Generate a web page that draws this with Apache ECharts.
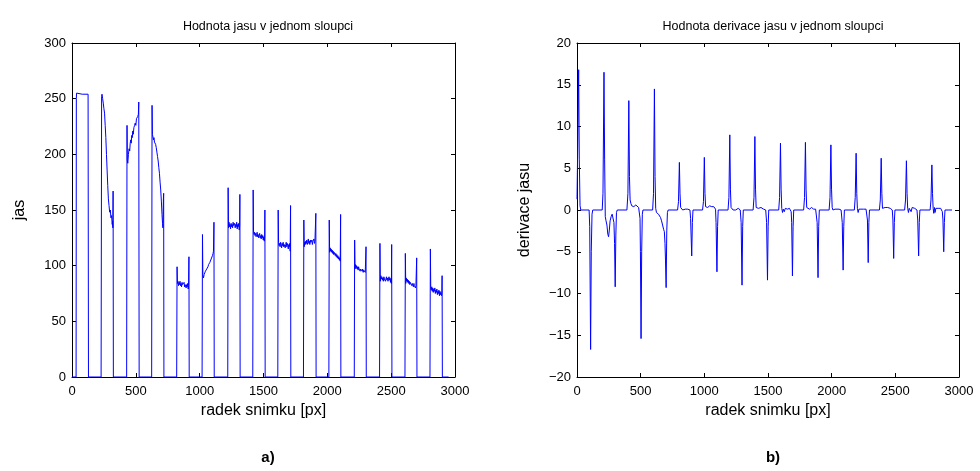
<!DOCTYPE html>
<html>
<head>
<meta charset="utf-8">
<script src="https://cdn.jsdelivr.net/npm/echarts@6/dist/echarts.min.js"></script>
<style>
  html, body { margin: 0; padding: 0; background: #fff; }
  #chart { width: 980px; height: 471px; }
</style>
</head>
<body>
<div id="chart"></div>
<script>
// hodnota jasu v jednom sloupci, [radek, jas], one line per pulse
const jasData = [
  [0, 0], [32, 0], [34, 250], [36, 255], [40, 254], [80, 254], [126, 254], [129, 0],
  [228, 0], [232, 252], [235, 254], [240, 250], [245, 246], [250, 241], [255, 237], [260, 226], [265, 215], [270, 200], [275, 186], [280, 172], [285, 160], [290, 154], [295, 148], [300, 150], [305, 143], [310, 145], [315, 137], [318, 140], [320, 134], [322, 167], [324, 0],
  [428, 0], [431, 226], [433, 195], [437, 192], [442, 200], [447, 205], [452, 203], [456, 210], [460, 213], [464, 210], [468, 217], [472, 215], [476, 221], [480, 218], [485, 224], [490, 226], [495, 228], [500, 226], [505, 232], [510, 233], [515, 234], [520, 236], [523, 247], [526, 0],
  [624, 0], [627, 244], [630, 218], [634, 217], [638, 213], [642, 215], [646, 211], [650, 212], [655, 209], [660, 206], [665, 202], [670, 198], [675, 194], [680, 188], [685, 183], [690, 175], [695, 168], [700, 158], [705, 146], [709, 138], [712, 134], [716, 160], [718, 165], [720, 0],
  [820, 0], [823, 99], [826, 84], [830, 86], [834, 82], [838, 85], [842, 83], [846, 86], [850, 82], [854, 84], [858, 81], [862, 85], [866, 83], [870, 84], [874, 82], [878, 85], [882, 81], [886, 83], [890, 84], [894, 80], [898, 83], [902, 81], [906, 84], [910, 79], [913, 82], [916, 108], [918, 0],
  [1019, 0], [1022, 128], [1025, 92], [1030, 89], [1035, 92], [1040, 93], [1045, 95], [1050, 94], [1055, 97], [1060, 98], [1065, 99], [1070, 101], [1075, 100], [1080, 103], [1085, 104], [1090, 106], [1095, 107], [1100, 109], [1105, 111], [1108, 113], [1112, 139], [1114, 0],
  [1220, 0], [1223, 170], [1226, 134], [1230, 139], [1234, 135], [1238, 137], [1242, 133], [1246, 138], [1250, 135], [1254, 137], [1258, 134], [1262, 139], [1266, 136], [1270, 135], [1274, 138], [1278, 134], [1282, 137], [1286, 135], [1290, 139], [1294, 133], [1298, 137], [1302, 135], [1306, 138], [1310, 132], [1313, 136], [1315, 164], [1317, 0],
  [1416, 0], [1419, 168], [1422, 131], [1426, 128], [1430, 130], [1434, 127], [1438, 129], [1442, 126], [1446, 128], [1450, 130], [1454, 126], [1458, 128], [1462, 125], [1466, 127], [1470, 129], [1474, 125], [1478, 127], [1482, 124], [1486, 128], [1490, 125], [1494, 127], [1498, 123], [1502, 126], [1506, 122], [1509, 125], [1511, 150], [1513, 0],
  [1612, 0], [1615, 150], [1618, 121], [1622, 118], [1626, 120], [1630, 117], [1634, 121], [1638, 119], [1642, 116], [1646, 120], [1650, 118], [1654, 121], [1658, 117], [1662, 119], [1666, 120], [1670, 116], [1674, 119], [1678, 121], [1682, 117], [1686, 120], [1690, 118], [1694, 115], [1698, 119], [1702, 117], [1706, 120], [1709, 113], [1712, 154], [1714, 0],
  [1813, 0], [1816, 141], [1819, 117], [1823, 121], [1827, 119], [1831, 122], [1835, 120], [1839, 123], [1843, 119], [1847, 121], [1851, 124], [1855, 120], [1859, 122], [1863, 119], [1867, 123], [1871, 121], [1875, 120], [1879, 123], [1883, 119], [1887, 122], [1891, 121], [1895, 124], [1899, 120], [1903, 122], [1907, 121], [1910, 147], [1912, 0],
  [2012, 0], [2015, 141], [2018, 112], [2022, 116], [2026, 113], [2030, 115], [2034, 112], [2038, 114], [2042, 111], [2046, 113], [2050, 110], [2054, 112], [2058, 111], [2062, 109], [2066, 111], [2070, 108], [2074, 110], [2078, 107], [2082, 109], [2086, 106], [2090, 108], [2094, 105], [2098, 107], [2101, 104], [2104, 146], [2106, 0],
  [2211, 0], [2214, 123], [2217, 97], [2221, 101], [2225, 98], [2229, 100], [2233, 97], [2237, 99], [2241, 96], [2245, 99], [2249, 97], [2253, 98], [2257, 95], [2261, 97], [2265, 96], [2269, 98], [2273, 95], [2277, 97], [2281, 94], [2285, 96], [2289, 95], [2293, 97], [2297, 94], [2300, 95], [2303, 117], [2305, 0],
  [2409, 0], [2412, 120], [2415, 86], [2419, 91], [2423, 88], [2427, 90], [2431, 87], [2435, 89], [2439, 86], [2443, 90], [2447, 88], [2451, 89], [2455, 86], [2459, 88], [2463, 90], [2467, 87], [2471, 89], [2475, 86], [2479, 88], [2483, 90], [2487, 87], [2491, 89], [2495, 85], [2499, 88], [2502, 84], [2504, 119], [2506, 0],
  [2608, 0], [2611, 111], [2614, 84], [2618, 89], [2622, 86], [2626, 88], [2630, 85], [2634, 87], [2638, 84], [2642, 86], [2646, 83], [2650, 85], [2654, 84], [2658, 86], [2662, 82], [2666, 84], [2670, 83], [2674, 81], [2678, 84], [2682, 82], [2686, 83], [2690, 80], [2694, 82], [2698, 81], [2700, 107], [2702, 0],
  [2804, 0], [2807, 115], [2810, 80], [2814, 78], [2818, 81], [2822, 77], [2826, 80], [2830, 76], [2834, 79], [2838, 77], [2842, 80], [2846, 75], [2850, 78], [2854, 76], [2858, 79], [2862, 74], [2866, 77], [2870, 75], [2874, 78], [2878, 73], [2882, 77], [2886, 74], [2890, 76], [2894, 73], [2897, 75], [2899, 91], [2901, 0], [2950, 0]
];

// hodnota derivace jasu, [radek, derivace], one line per pulse
const derivaceData = [
  [0, 1.3], [6, 8], [13, 16.8], [18, 6], [24, 0.5], [30, 0], [95, 0], [100, -2], [107, -16.7], [112, -5], [118, -0.5], [124, 0],
  [198, 0], [204, 2], [212, 16.5], [217, 6], [222, -0.8], [228, -1.3], [235, -1.8], [242, -2.9], [248, -3.2], [254, -2.4], [260, -1.3], [268, -0.8], [276, -0.5], [284, -0.4], [290, -1.5], [295, -4], [300, -9.2], [305, -3], [310, -0.3], [316, 0],
  [392, 0], [400, 2], [407, 13.1], [412, 4], [417, 1.2], [423, 0.8], [430, 0.5], [438, 0.3], [446, 0.4], [455, 0.4], [462, 0.6], [468, 0.5], [476, 0.4], [484, 0.3], [490, 0.2], [495, -1], [498, -5], [503, -15.4], [508, -5], [513, -0.5], [518, 0],
  [594, 0], [601, 2], [608, 14.5], [613, 4], [618, 0.2], [624, -0.3], [632, -0.4], [640, -0.5], [648, -0.7], [656, -0.9], [664, -1.3], [672, -1.8], [680, -2.3], [686, -2.6], [691, -4], [695, -6], [700, -9.3], [705, -2.5], [710, -0.3], [716, 0],
  [790, 0], [797, 1], [804, 5.7], [809, 2], [814, 0.3], [822, 0.1], [830, 0], [840, 0.2], [850, 0.1], [860, 0.2], [870, 0.1], [880, 0.2], [887, 0], [892, -1], [901, -5.5], [906, -1.5], [911, 0],
  [986, 0], [993, 1], [1000, 6.3], [1005, 2], [1010, 0.4], [1018, 0.3], [1026, 0.3], [1034, 0.4], [1042, 0.5], [1050, 0.5], [1058, 0.4], [1066, 0.5], [1074, 0.4], [1082, 0.3], [1088, 0.1], [1092, -1.5], [1099, -7.4], [1104, -2], [1109, 0],
  [1186, 0], [1193, 1.5], [1200, 9.0], [1205, 2.5], [1210, 0.3], [1218, 0.1], [1226, 0], [1236, 0.1], [1246, 0], [1256, 0.1], [1266, 0.2], [1274, 0.1], [1282, 0], [1289, -1.5], [1296, -9.0], [1301, -2], [1306, 0],
  [1383, 0], [1390, 1.5], [1397, 8.8], [1402, 2.5], [1407, 0.3], [1415, 0.1], [1425, 0.2], [1435, 0.1], [1445, 0.3], [1455, 0.2], [1465, 0.1], [1475, 0.2], [1482, 0], [1489, -1.5], [1496, -8.4], [1501, -2], [1506, 0],
  [1584, 0], [1591, 1.5], [1598, 8.0], [1603, 2.5], [1608, 0.2], [1614, -0.3], [1620, 0.1], [1628, -0.2], [1636, 0.2], [1644, 0.3], [1652, 0.1], [1660, 0.3], [1668, 0.2], [1676, 0], [1682, -0.2], [1686, -1.5], [1692, -7.9], [1697, -2], [1702, 0],
  [1780, 0], [1787, 1.5], [1794, 8.1], [1799, 2.5], [1804, 0.3], [1810, 0.1], [1818, 0.3], [1826, 0.1], [1834, 0.2], [1842, 0.3], [1850, 0.2], [1858, 0.1], [1866, 0.2], [1874, 0.1], [1880, 0], [1886, -1.5], [1893, -8.1], [1898, -2], [1903, 0],
  [1980, 0], [1987, 1.5], [1994, 7.8], [1999, 2.5], [2004, 0.3], [2010, 0], [2018, 0.2], [2026, 0.1], [2034, 0.3], [2042, 0.1], [2050, 0.2], [2058, 0.1], [2066, 0.2], [2074, 0], [2078, -0.2], [2083, -1.5], [2090, -7.2], [2095, -2], [2100, 0],
  [2178, 0], [2185, 1.5], [2192, 6.8], [2197, 2], [2202, 0.2], [2208, -0.3], [2214, 0.1], [2222, 0.2], [2230, 0.1], [2240, 0.2], [2250, 0.1], [2260, 0.2], [2270, 0.1], [2276, 0], [2281, -1.2], [2287, -6.3], [2292, -1.5], [2297, 0],
  [2375, 0], [2382, 1.2], [2389, 6.2], [2394, 2], [2399, 0.2], [2405, 0.4], [2412, 0.1], [2420, 0.3], [2430, 0.2], [2440, 0.3], [2450, 0.1], [2460, 0.2], [2470, 0.1], [2476, 0], [2481, -1.2], [2487, -5.8], [2492, -1.5], [2497, 0],
  [2573, 0], [2580, 1.2], [2587, 5.9], [2592, 2], [2597, 0.2], [2603, -0.3], [2609, 0.2], [2616, 0.4], [2624, -0.2], [2632, 0.3], [2642, 0.1], [2652, 0.2], [2662, 0.1], [2670, 0], [2676, -1.2], [2683, -5.5], [2688, -1.5], [2693, 0],
  [2773, 0], [2780, 1.2], [2787, 5.4], [2792, 2], [2797, 0.2], [2802, -0.4], [2807, 0.3], [2812, -0.3], [2818, 0.2], [2826, 0.1], [2836, 0.2], [2846, 0.1], [2856, 0.2], [2864, 0], [2869, -0.2], [2874, -1.2], [2880, -5.0], [2885, -1.5], [2890, 0], [2945, 0]
];

const titles = ['Hodnota jasu v jednom sloupci', 'Hodnota derivace jasu v jednom sloupci'];
const panelLabels = ['a)', 'b)'];
const xName = 'radek snimku [px]';
const yNames = ['jas', 'derivace jasu'];

const FONT = 'Liberation Sans, Arial, sans-serif';
// MATLAB style: plain numbers, real minus sign
const plain = (v) => String(v).replace('-', '\u2212');

const grids = [
  { left: 72, top: 43, width: 383, height: 334 },
  { left: 577, top: 43, width: 382, height: 334 }
];

function xAxes(gi) {
  const base = {
    gridIndex: gi, type: 'value', min: 0, max: 3000, interval: 500,
    axisLine: { show: true, onZero: false, lineStyle: { color: '#000', width: 1 } },
    axisTick: { show: true, inside: true, length: 4, lineStyle: { color: '#000' } },
    splitLine: { show: false }
  };
  return [
    Object.assign({}, base, {
      position: 'bottom',
      name: xName, nameLocation: 'middle', nameGap: 25,
      nameTextStyle: { color: '#000', fontSize: 16, fontFamily: FONT },
      axisLabel: { color: '#000', fontSize: 13, fontFamily: FONT, margin: 8, formatter: plain }
    }),
    Object.assign({}, base, { position: 'top', axisLabel: { show: false } })
  ];
}

function yAxes(gi, min, max, interval) {
  const base = {
    gridIndex: gi, type: 'value', min: min, max: max, interval: interval,
    axisLine: { show: true, onZero: false, lineStyle: { color: '#000', width: 1 } },
    axisTick: { show: true, inside: true, length: 4, lineStyle: { color: '#000' } },
    splitLine: { show: false }
  };
  return [
    Object.assign({}, base, {
      position: 'left',
      name: yNames[gi], nameLocation: 'middle', nameGap: 44, nameRotate: 90,
      nameTextStyle: { color: '#000', fontSize: 16, fontFamily: FONT },
      axisLabel: { color: '#000', fontSize: 13, fontFamily: FONT, margin: 6, formatter: plain }
    }),
    Object.assign({}, base, { position: 'right', axisLabel: { show: false } })
  ];
}

const chart = echarts.init(document.getElementById('chart'), null, { renderer: 'canvas' });
chart.setOption({
  animation: false,
  backgroundColor: '#fff',
  title: [
    { text: titles[0], left: 263, top: 15, textAlign: 'center',
      textStyle: { color: '#000', fontSize: 12.5, fontWeight: 'normal', fontFamily: FONT } },
    { text: titles[1], left: 768, top: 15, textAlign: 'center',
      textStyle: { color: '#000', fontSize: 12.5, fontWeight: 'normal', fontFamily: FONT } },
    { text: panelLabels[0], left: 263, top: 445, textAlign: 'center',
      textStyle: { color: '#000', fontSize: 15, fontWeight: 'bold', fontFamily: FONT } },
    { text: panelLabels[1], left: 768, top: 445, textAlign: 'center',
      textStyle: { color: '#000', fontSize: 15, fontWeight: 'bold', fontFamily: FONT } }
  ],
  grid: grids,
  xAxis: xAxes(0).concat(xAxes(1)),
  yAxis: yAxes(0, 0, 300, 50).concat(yAxes(1, -20, 20, 5)),
  series: [
    {
      name: yNames[0], type: 'line', xAxisIndex: 0, yAxisIndex: 0,
      data: jasData, showSymbol: false, symbol: 'none',
      lineStyle: { color: '#0000ff', width: 1 }
    },
    {
      name: yNames[1], type: 'line', xAxisIndex: 2, yAxisIndex: 2,
      data: derivaceData, showSymbol: false, symbol: 'none',
      lineStyle: { color: '#0000ff', width: 1 }
    }
  ]
});
</script>
</body>
</html>
